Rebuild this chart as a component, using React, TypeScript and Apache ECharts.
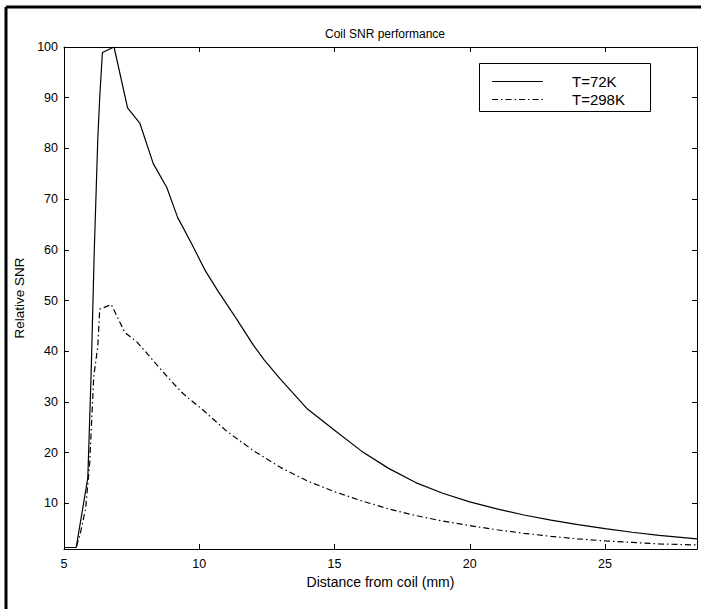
import React, { useEffect, useRef } from "react";
import * as echarts from "echarts";

const title = "Coil SNR performance";
const xName = "Distance from coil (mm)";
const yName = "Relative SNR";
const legendNames = ["T=72K", "T=298K"];
const xTicks = [5, 10, 15, 20, 25];
const yTicks = [10, 20, 30, 40, 50, 60, 70, 80, 90, 100];

const dist72 = [5.0, 5.45, 5.88, 6.0, 6.12, 6.25, 6.32, 6.42, 6.85, 7.35, 7.8, 8.3, 8.8, 9.2, 9.7, 10.2, 10.7, 11.4, 12.0, 12.4, 13.0, 14.0, 15.0, 16.0, 17.0, 18.0, 19.0, 20.0, 21.0, 22.0, 23.0, 24.0, 25.0, 26.0, 27.0, 28.4];
const snr72 = [1.3, 1.3, 15, 35, 60, 82, 90, 98.9, 100, 88, 85, 77, 72.3, 66.4, 61.4, 56.1, 51.8, 46.2, 41.2, 38.3, 34.5, 28.6, 24.4, 20.3, 16.9, 14.1, 12.0, 10.3, 8.9, 7.7, 6.7, 5.8, 5.0, 4.3, 3.7, 3.0];

const dist298 = [5.0, 5.45, 5.6, 5.8, 5.95, 6.1, 6.25, 6.32, 6.75, 7.25, 7.7, 8.0, 8.45, 8.9, 9.35, 9.7, 10.1, 11.0, 12.0, 13.0, 14.0, 15.0, 16.0, 17.0, 18.0, 19.0, 20.0, 21.0, 22.0, 23.0, 24.0, 25.0, 26.0, 27.0, 28.4];
const snr298 = [1.3, 1.3, 4, 9, 18, 35, 41, 48.3, 49.2, 43.7, 41.8, 40.0, 37.2, 34.5, 31.9, 30.3, 28.6, 24.3, 20.4, 17.1, 14.4, 12.3, 10.5, 8.9, 7.6, 6.5, 5.6, 4.8, 4.1, 3.5, 3.0, 2.6, 2.3, 2.0, 1.8];

const FONT = "Liberation Sans";
const DASHDOT = [6, 3, 1.5, 3];

export default function App() {
  const ref = useRef<HTMLDivElement>(null);
  useEffect(() => {
    if (!ref.current) return;
    const chart = echarts.init(ref.current, null, { renderer: "svg" });
    const axisCommon = {
      axisLine: { show: true, lineStyle: { color: "#000", width: 1 } },
      splitLine: { show: false },
    };
    const tick = { show: true, inside: true, length: 5, lineStyle: { color: "#000" } };
    chart.setOption({
      animation: false,
      backgroundColor: "#fff",
      title: {
        text: title,
        left: 380,
        top: 23,
        textAlign: "center",
        textStyle: { fontFamily: FONT, fontSize: 12, fontWeight: "normal", color: "#000" },
      },
      grid: { left: 64, top: 47, right: 4, bottom: 60 },
      xAxis: [
        {
          type: "value",
          min: 5,
          max: 28.4,
          position: "bottom",
          name: xName,
          nameLocation: "middle",
          nameGap: 24,
          nameTextStyle: { fontFamily: FONT, fontSize: 14, color: "#000" },
          ...axisCommon,
          axisTick: { ...tick, customValues: xTicks },
          axisLabel: { show: true, customValues: xTicks, fontFamily: FONT, fontSize: 12.5, color: "#000", margin: 8 },
        },
        {
          type: "value",
          min: 5,
          max: 28.4,
          position: "top",
          ...axisCommon,
          axisTick: { ...tick, customValues: xTicks },
          axisLabel: { show: false },
        },
      ],
      yAxis: [
        {
          type: "value",
          min: 1,
          max: 100,
          position: "left",
          name: yName,
          nameLocation: "middle",
          nameGap: 35,
          nameTextStyle: { fontFamily: FONT, fontSize: 13.5, color: "#000" },
          ...axisCommon,
          axisTick: { ...tick, customValues: yTicks },
          axisLabel: { show: true, customValues: yTicks, fontFamily: FONT, fontSize: 12.5, color: "#000", margin: 6 },
        },
        {
          type: "value",
          min: 1,
          max: 100,
          position: "right",
          ...axisCommon,
          axisTick: { ...tick, customValues: yTicks },
          axisLabel: { show: false },
        },
      ],
      graphic: [
        { type: "line", shape: { x1: 6, y1: 7, x2: 701, y2: 7 }, style: { stroke: "#000", lineWidth: 3 } },
        { type: "line", shape: { x1: 6, y1: 7, x2: 6, y2: 609 }, style: { stroke: "#000", lineWidth: 3 } },
        {
          type: "rect",
          z: 10,
          shape: { x: 479.5, y: 63.5, width: 171, height: 48 },
          style: { fill: "#fff", stroke: "#000", lineWidth: 1 },
        },
        {
          type: "line",
          z: 11,
          shape: { x1: 492, y1: 81.5, x2: 543, y2: 81.5 },
          style: { stroke: "#000", lineWidth: 1.2 },
        },
        {
          type: "line",
          z: 11,
          shape: { x1: 492, y1: 99.5, x2: 543, y2: 99.5 },
          style: { stroke: "#000", lineWidth: 1.2, lineDash: DASHDOT },
        },
        {
          type: "text",
          z: 11,
          x: 572,
          y: 81,
          style: { text: legendNames[0], font: `15px "${FONT}"`, fill: "#000", verticalAlign: "middle", align: "left" },
        },
        {
          type: "text",
          z: 11,
          x: 572,
          y: 99,
          style: { text: legendNames[1], font: `15px "${FONT}"`, fill: "#000", verticalAlign: "middle", align: "left" },
        },
      ],
      series: [
        {
          name: legendNames[0],
          type: "line",
          xAxisIndex: 0,
          yAxisIndex: 0,
          symbol: "none",
          lineStyle: { color: "#000", width: 1.2, type: "solid" },
          itemStyle: { color: "#000" },
          data: dist72.map((d, i) => [d, snr72[i]]),
        },
        {
          name: legendNames[1],
          type: "line",
          xAxisIndex: 0,
          yAxisIndex: 0,
          symbol: "none",
          lineStyle: { color: "#000", width: 1.2, type: DASHDOT },
          itemStyle: { color: "#000" },
          data: dist298.map((d, i) => [d, snr298[i]]),
        },
      ],
    });
    return () => chart.dispose();
  }, []);
  return (
    <div
      ref={ref}
      style={{ position: "fixed", left: 0, top: 0, width: 701, height: 609 }}
    />
  );
}
